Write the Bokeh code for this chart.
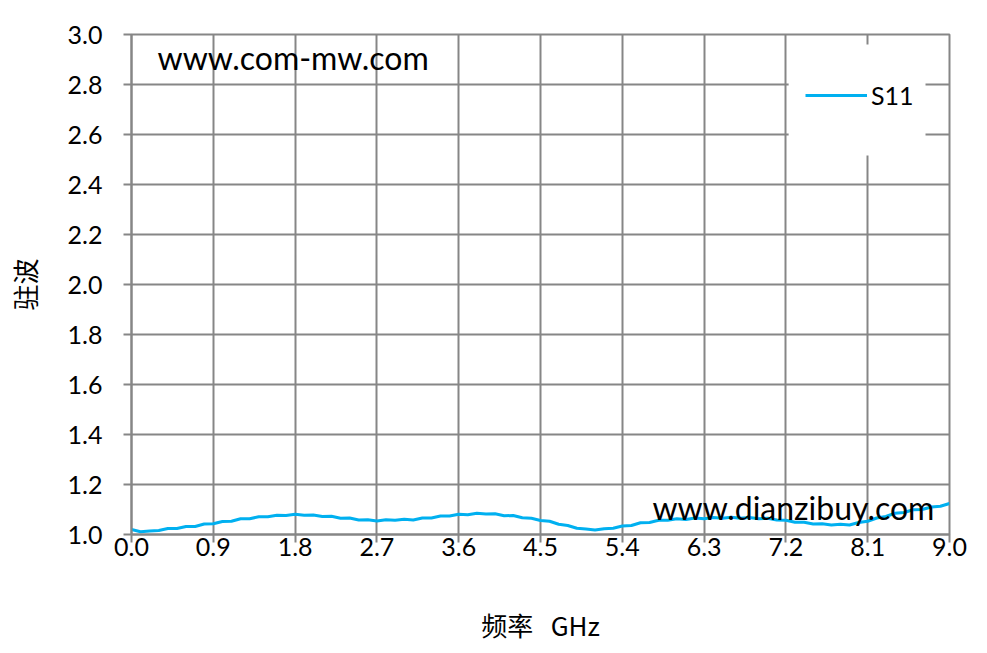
from bokeh.plotting import figure
from bokeh.models import Range1d, FixedTicker, Legend, LegendItem, NumeralTickFormatter, ColumnDataSource
from bokeh.core.properties import value
from bokeh.embed import file_html
from bokeh.resources import INLINE

# ---- data ----
freq_ghz = [round(i * 0.1, 1) for i in range(91)]
s11_vswr = [
    1.020, 1.011, 1.014, 1.016, 1.024, 1.024, 1.032, 1.032, 1.042, 1.043,
    1.052, 1.053, 1.063, 1.063, 1.071, 1.071, 1.077, 1.076, 1.081, 1.077,
    1.078, 1.072, 1.073, 1.065, 1.066, 1.058, 1.059, 1.054, 1.059, 1.057,
    1.061, 1.058, 1.066, 1.066, 1.074, 1.074, 1.081, 1.079, 1.085, 1.082,
    1.083, 1.075, 1.076, 1.067, 1.065, 1.056, 1.053, 1.041, 1.036, 1.025,
    1.022, 1.018, 1.023, 1.025, 1.034, 1.036, 1.047, 1.048, 1.057, 1.057,
    1.063, 1.060, 1.066, 1.063, 1.068, 1.065, 1.069, 1.065, 1.068, 1.063,
    1.065, 1.058, 1.057, 1.049, 1.049, 1.042, 1.043, 1.038, 1.041, 1.038,
    1.048, 1.053, 1.066, 1.072, 1.085, 1.088, 1.099, 1.100, 1.110, 1.113,
    1.124,
]
x_ticks = [0.0, 0.9, 1.8, 2.7, 3.6, 4.5, 5.4, 6.3, 7.2, 8.1, 9.0]
y_ticks = [1.0, 1.2, 1.4, 1.6, 1.8, 2.0, 2.2, 2.4, 2.6, 2.8, 3.0]
series_name = "S11"
x_title = "频率\u00a0\u00a0\u00a0GHz"
y_title = "驻波"
watermark_1 = "www.com-mw.com"
watermark_2 = "www.dianzibuy.com"

GRID = "#868686"
LINE = "#00B0F0"
TICK_FONT = "Lato"
CJK_FONT = "Noto Sans CJK SC"

p = figure(width=979, height=645, output_backend="svg", toolbar_location=None,
           x_range=Range1d(0, 9), y_range=Range1d(1, 3),
           min_border_left=131, min_border_right=30, min_border_top=34, min_border_bottom=111)
p.outline_line_color = GRID
p.outline_line_width = 2
p.background_fill_color = "white"

for ax in (p.xaxis[0], p.yaxis[0]):
    ax.axis_line_color = GRID
    ax.axis_line_width = 2
    ax.major_tick_line_color = GRID
    ax.major_tick_line_width = 2
    ax.major_tick_out = 8
    ax.major_tick_in = 0
    ax.minor_tick_line_color = None
    ax.major_label_text_font = TICK_FONT
    ax.major_label_text_font_size = "25px"
    ax.major_label_text_color = "black"
    ax.formatter = NumeralTickFormatter(format="0.0")
    ax.axis_label_text_font = CJK_FONT
    ax.axis_label_text_font_size = "26px"
    ax.axis_label_text_font_style = "normal"
    ax.axis_label_text_color = "black"

p.xaxis.ticker = FixedTicker(ticks=x_ticks)
p.yaxis.ticker = FixedTicker(ticks=y_ticks)
p.xaxis.major_label_standoff = -5
p.yaxis.major_label_standoff = 21
p.xaxis.axis_label = x_title
p.yaxis.axis_label = y_title
p.xaxis.axis_label_standoff = 47
p.yaxis.axis_label_standoff = 22

p.xgrid.ticker = FixedTicker(ticks=x_ticks)
p.ygrid.ticker = FixedTicker(ticks=y_ticks)
for g in (p.xgrid[0], p.ygrid[0]):
    g.grid_line_color = GRID
    g.grid_line_width = 2

# white legend box (covers grid)
p.quad(left=[7.23], right=[8.736], bottom=[2.516], top=[2.96],
       fill_color="white", line_color=None)

src = ColumnDataSource(dict(f=freq_ghz, v=s11_vswr))
r = p.line("f", "v", source=src, line_color=LINE, line_width=3)

p.text(x=[0.286], y=[2.908], text=[watermark_1], text_font=value(TICK_FONT),
       text_font_size="32px", text_baseline="middle", text_align="left", text_color="black")
p.text(x=[5.732], y=[1.108], text=[watermark_2], text_font=value(TICK_FONT),
       text_font_size="32px", text_baseline="middle", text_align="left", text_color="black")

legend = Legend(items=[LegendItem(label=series_name, renderers=[r])],
                location=(674, 424), padding=0, margin=0,
                glyph_width=62, glyph_height=22, label_height=22, label_standoff=4,
                label_text_font=TICK_FONT, label_text_font_size="25px", label_text_color="black",
                background_fill_alpha=0, border_line_alpha=0)
p.add_layout(legend)

open("out.html", "w").write(file_html(p, INLINE))
